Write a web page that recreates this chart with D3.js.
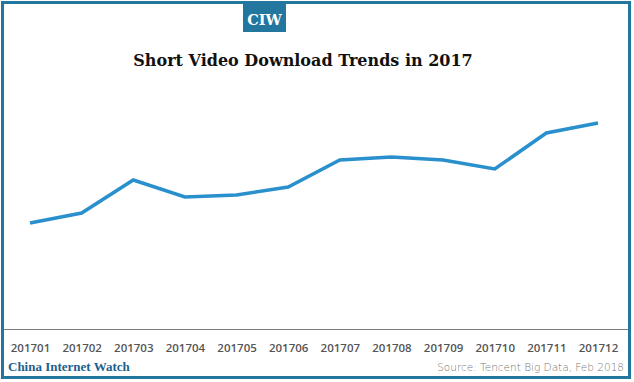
<!DOCTYPE html>
<html>
<head>
<meta charset="utf-8">
<script src="https://cdn.jsdelivr.net/npm/d3@7"></script>
<style>
  body { margin: 0; background: #fff; }
  svg { display: block; }
</style>
</head>
<body>
<svg id="chart" width="634" height="382"></svg>
<script>
// monthly download index (no y axis in the original, read as relative heights)
const months = ["201701", "201702", "201703", "201704", "201705", "201706",
                "201707", "201708", "201709", "201710", "201711", "201712"];
const downloads = [106, 116, 149, 132, 134, 142, 169, 172, 169, 160, 196, 206];

const svg = d3.select("#chart");
const W = 634, H = 382;
const blue = "#23769e";

// frame
svg.append("rect")
    .attr("x", 2.5).attr("y", 2.5)
    .attr("width", W - 7).attr("height", H - 7)
    .attr("fill", "none")
    .attr("stroke", blue)
    .attr("stroke-width", 3);

// CIW badge
svg.append("rect")
    .attr("x", 243).attr("y", 4)
    .attr("width", 43).attr("height", 28)
    .attr("fill", blue);
svg.append("text")
    .attr("x", 264.5).attr("y", 25)
    .attr("text-anchor", "middle")
    .attr("fill", "#fff")
    .attr("font-family", "'DejaVu Serif', serif")
    .attr("font-weight", "bold")
    .attr("font-size", 14.5)
    .text("CIW");

svg.append("text")
    .attr("x", 303).attr("y", 66)
    .attr("text-anchor", "middle")
    .attr("fill", "#111")
    .attr("font-family", "'DejaVu Serif', serif")
    .attr("font-weight", "bold")
    .attr("font-size", 16)
    .text("Short Video Download Trends in 2017");

const x = d3.scalePoint()
    .domain(months)
    .range([30, 598]);

const y = d3.scaleLinear()
    .domain([0, 250])
    .range([329, 79]);

// baseline axis
const axis = svg.append("g")
    .attr("transform", "translate(0,329)")
    .call(d3.axisBottom(x).tickSize(0).tickPadding(15));
axis.select(".domain").remove();
axis.selectAll("text")
    .attr("fill", "#555")
    .attr("font-family", "'Open Sans', sans-serif")
    .attr("font-weight", 600)
    .attr("font-size", 11.5);

svg.append("line")
    .attr("x1", 4).attr("x2", W - 6)
    .attr("y1", 329.5).attr("y2", 329.5)
    .attr("stroke", "#7a7a7a")
    .attr("stroke-width", 1);

const line = d3.line()
    .x((d, i) => x(months[i]))
    .y(d => y(d));

svg.append("path")
    .datum(downloads)
    .attr("fill", "none")
    .attr("stroke", "#2a90cd")
    .attr("stroke-width", 3.5)
    .attr("stroke-linejoin", "miter")
    .attr("d", line);

// footer
svg.append("text")
    .attr("x", 8).attr("y", 371)
    .attr("fill", "#1f5f8c")
    .attr("font-family", "'Liberation Serif', serif")
    .attr("font-weight", "bold")
    .attr("font-size", 13)
    .text("China Internet Watch");

svg.append("text")
    .attr("x", 624).attr("y", 371)
    .attr("text-anchor", "end")
    .attr("fill", "#777")
    .attr("font-family", "'DejaVu Sans', sans-serif")
    .attr("font-size", 10.5)
    .attr("font-weight", 300)
    .text("Source: Tencent Big Data, Feb 2018");
</script>
</body>
</html>
